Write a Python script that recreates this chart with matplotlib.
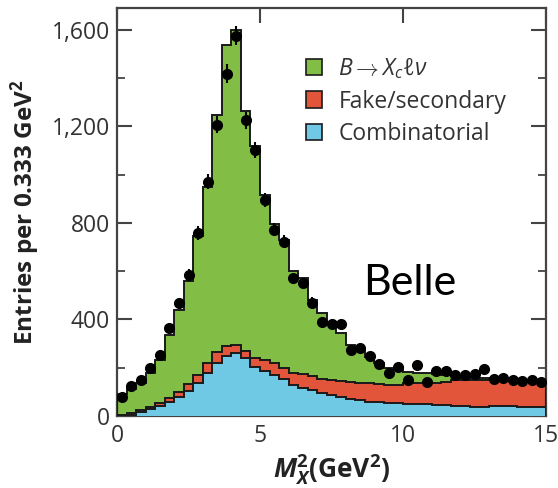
import numpy as np
import matplotlib
matplotlib.use("Agg")
import matplotlib.pyplot as plt
from matplotlib.patches import Patch
from matplotlib.ticker import MultipleLocator

# ---------------- data ----------------
bin_lo, bin_hi, n_bins = 0.0, 15.0, 45

combinatorial = [2, 5, 15, 28, 40, 58, 80, 105, 135, 177, 220, 250, 260, 240, 205,
                 185, 168, 152, 130, 118, 108, 95, 85, 78, 72, 66, 60, 58, 55, 52,
                 50, 50, 48, 46, 44, 42, 40, 36, 38, 40, 42, 40, 38, 37, 36]
fake_secondary = [3, 7, 10, 10, 15, 17, 20, 27, 35, 43, 46, 40, 35, 30, 35,
                  47, 50, 46, 50, 54, 57, 60, 65, 67, 70, 72, 75, 75, 75, 76,
                  85, 85, 87, 92, 98, 106, 110, 114, 112, 108, 108, 110, 110, 109, 109]
signal_xclnu = [87, 100, 110, 142, 177, 260, 340, 428, 575, 730, 979, 1245, 1305, 995, 880,
                683, 579, 530, 420, 398, 315, 270, 235, 200, 153, 132, 110, 87, 70, 62,
                48, 45, 42, 34, 26, 17, 8, 5, 7, 4, 3, 2, 2, 2, 1]
data_points = [80, 124, 149, 197, 252, 363, 466, 583, 758, 971, 1207, 1418, 1575, 1225, 1100,
               894, 772, 721, 570, 549, 469, 390, 381, 381, 273, 283, 250, 216, 178, 204,
               150, 212, 142, 188, 186, 170, 170, 174, 194, 152, 158, 150, 145, 149, 142]
data_errors = [9, 11, 12, 14, 16, 19, 22, 24, 28, 31, 35, 38, 40, 35, 33,
               30, 28, 27, 24, 23, 22, 20, 20, 20, 17, 17, 16, 15, 13, 14,
               12, 15, 12, 14, 14, 13, 13, 13, 14, 12, 13, 12, 12, 12, 12]

legend_labels = [r"$B \rightarrow X_c \ell \nu$", "Fake/secondary", "Combinatorial"]
y_ticks = [0, 400, 800, 1200, 1600]
y_tick_labels = ["0", "400", "800", "1,200", "1,600"]
x_ticks = [0, 5, 10, 15]
x_tick_labels = ["0", "5", "10", "15"]

# ---------------- style ----------------
plt.rcParams["font.family"] = ["Open Sans", "DejaVu Sans"]
plt.rcParams["mathtext.fontset"] = "custom"
plt.rcParams["mathtext.rm"] = "Open Sans"
plt.rcParams["mathtext.it"] = "Open Sans:italic"
plt.rcParams["mathtext.bf"] = "Open Sans:bold"
try:
    plt.rcParams["mathtext.bfit"] = "Open Sans:bold:italic"
except KeyError:
    pass

c_green = "#82bd45"
c_red = "#e2553a"
c_blue = "#6fc9e4"
c_line = "#1a1a1a"
c_text = "#333333"

fig = plt.figure(figsize=(5.58, 4.88), dpi=100)
ax = fig.add_axes([117 / 558, 72 / 488, (546 - 117) / 558, (416 - 8) / 488])

edges = np.linspace(bin_lo, bin_hi, n_bins + 1)
centers = 0.5 * (edges[:-1] + edges[1:])

blue_top = np.array(combinatorial, dtype=float)
red_top = blue_top + np.array(fake_secondary, dtype=float)
green_top = red_top + np.array(signal_xclnu, dtype=float)

ax.stairs(green_top, edges, fill=True, color=c_green, zorder=1)
ax.stairs(red_top, edges, fill=True, color=c_red, zorder=2)
ax.stairs(blue_top, edges, fill=True, color=c_blue, zorder=3)
for top in (green_top, red_top, blue_top):
    ax.stairs(top, edges, fill=False, color=c_line, lw=1.4, zorder=4)

ax.errorbar(centers, data_points, yerr=data_errors, fmt="o", color="black",
            ms=7, elinewidth=1.5, capsize=0, zorder=5)

ax.set_xlim(0, 15)
ax.set_ylim(0, 1690)
ax.set_xticks(x_ticks)
ax.set_xticklabels(x_tick_labels)
ax.set_yticks(y_ticks)
ax.set_yticklabels(y_tick_labels)
ax.yaxis.set_minor_locator(MultipleLocator(200))
ax.tick_params(which="both", direction="in", top=True, right=True,
               color="#444444", labelcolor=c_text, labelsize=16.5)
ax.tick_params(which="major", length=11, width=1.5)
ax.tick_params(which="minor", length=6, width=1.3)
ax.tick_params(axis="y", pad=5)
ax.tick_params(axis="x", pad=6)
for s in ax.spines.values():
    s.set_color("#444444")
    s.set_linewidth(1.6)

ax.set_ylabel(r"Entries per 0.333 GeV$^{\mathbf{2}}$", fontsize=17.5, fontweight="bold",
              color="#222222", labelpad=7)
ax.set_xlabel(r"$\mathbfit{M}_{\mathbfit{X}}^{\mathbf{2}}$(GeV$^{\mathbf{2}}$)",
              fontsize=19, fontweight="bold", color="#222222", labelpad=3)

handles = [Patch(facecolor=c, edgecolor=c_line, lw=1.2) for c in (c_green, c_red, c_blue)]
ax.legend(handles, legend_labels, loc="upper left", bbox_to_anchor=(0.42, 0.905),
          frameon=False, fontsize=16.5, handlelength=0.7, handleheight=0.7,
          handletextpad=0.7, labelspacing=0.38, labelcolor=c_text, borderaxespad=0)

fig.text(410 / 558, 1 - 283 / 488, "Belle", fontsize=31, family=["Lato", "DejaVu Sans"],
         ha="center", va="center", color="black")

fig.savefig("out.png", dpi=100)
